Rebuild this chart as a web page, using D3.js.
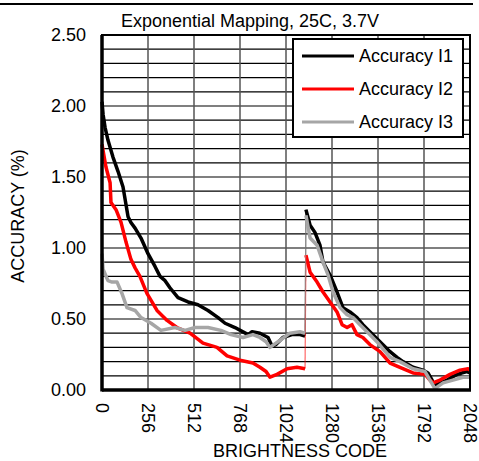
<!DOCTYPE html>
<html><head><meta charset="utf-8">
<script src="https://cdn.jsdelivr.net/npm/d3@7"></script>
<style>body{margin:0;background:#fff}svg{display:block}text{font-family:"Liberation Sans",Arial,sans-serif}</style>
</head><body>
<script>
const title = "Exponential Mapping, 25C, 3.7V";
const xTicks = [0, 256, 512, 768, 1024, 1280, 1536, 1792, 2048];
const yTicks = [0, 0.5, 1.0, 1.5, 2.0, 2.5];
const seriesNames = ["Accuracy I1", "Accuracy I2", "Accuracy I3"];
const seriesColors = ["#000000", "#ff0000", "#a6a6a6"];

const i1Code = [0,6,17,33,61,89,117,145,161,184,217,256,295,323,351,378,423,479,534,590,646,685,740,813,835,879,924,946,968,1007,1057,1102,1130,
  1135,1158,1185,1213,1230,1269,1308,1341,1380,1419,1452,1491,1547,1603,1642,1675,1731,1786,1814,1837,1848,1864,1920,1976,2031,2048];
const i1Val = [2.03,1.94,1.85,1.76,1.64,1.54,1.43,1.22,1.18,1.14,1.07,0.96,0.87,0.80,0.77,0.72,0.65,0.62,0.60,0.56,0.51,0.47,0.44,0.39,0.41,0.40,0.37,0.31,0.32,0.37,0.39,0.39,0.38,
  1.27,1.16,1.11,1.02,0.90,0.81,0.69,0.58,0.55,0.51,0.46,0.41,0.34,0.27,0.23,0.20,0.16,0.14,0.12,0.07,0.03,0.04,0.07,0.11,0.13,0.12];

const i2Code = [0,11,22,45,50,78,106,134,161,184,211,250,306,362,417,490,562,640,696,768,840,879,913,935,974,1030,1085,1130,
  1135,1158,1197,1230,1269,1308,1336,1364,1391,1419,1452,1491,1547,1603,1658,1731,1798,1825,1842,1881,1937,1992,2037,2048];
const i2Val = [1.73,1.65,1.57,1.46,1.32,1.27,1.18,1.04,0.92,0.86,0.80,0.68,0.56,0.49,0.44,0.40,0.33,0.30,0.24,0.21,0.19,0.16,0.13,0.09,0.11,0.15,0.16,0.15,
  0.95,0.83,0.76,0.69,0.62,0.55,0.46,0.44,0.46,0.39,0.37,0.32,0.27,0.19,0.16,0.12,0.11,0.07,0.05,0.07,0.11,0.14,0.15,0.14];

const i3Code = [0,6,33,56,84,111,139,184,217,273,328,406,462,518,590,662,718,785,840,879,913,935,991,1046,1102,1130,
  1135,1158,1197,1230,1258,1286,1325,1364,1397,1436,1475,1530,1603,1658,1731,1798,1825,1853,1898,1953,2009,2048];
const i3Val = [0.96,0.85,0.77,0.76,0.76,0.68,0.58,0.56,0.51,0.47,0.42,0.44,0.42,0.44,0.44,0.42,0.39,0.37,0.39,0.37,0.34,0.30,0.35,0.40,0.41,0.40,
  1.23,1.07,1.02,0.90,0.81,0.69,0.58,0.53,0.51,0.46,0.41,0.34,0.23,0.20,0.15,0.13,0.07,0.01,0.05,0.07,0.09,0.09];

const W = 479, H = 461;
const svg = d3.select("body").append("svg").attr("width", W).attr("height", H);
const x = d3.scaleLinear().domain([0, 2048]).range([102, 470]);
const y = d3.scaleLinear().domain([0, 2.5]).range([390, 35]);

// top rule
svg.append("line").attr("x1", 0).attr("x2", 473).attr("y1", 4).attr("y2", 4).attr("stroke", "#000").attr("stroke-width", 2);

// grid
const hGrid = d3.range(0, 26).map(i => i / 10);
svg.append("g").selectAll("line").data(hGrid).join("line")
  .attr("x1", x(0)).attr("x2", x(2048)).attr("y1", d => y(d)).attr("y2", d => y(d))
  .attr("stroke", "#000").attr("stroke-width", 1.2);
svg.append("g").selectAll("line").data(xTicks).join("line")
  .attr("x1", d => x(d)).attr("x2", d => x(d)).attr("y1", y(0)).attr("y2", y(2.5))
  .attr("stroke", "#555").attr("stroke-width", 1.5);

// series
const line = d3.line().x(d => x(d[0])).y(d => y(d[1]));
const series = [[i1Code, i1Val], [i2Code, i2Val], [i3Code, i3Val]];
series.forEach(([c, v], k) => {
  const pts = c.map((cc, i) => [cc, v[i]]);
  const split = pts.findIndex(p => p[0] > 1132);
  const a = pts.slice(0, split), b = pts.slice(split);
  svg.append("path").datum([a[a.length - 1], b[0]]).attr("d", line)
    .attr("fill", "none").attr("stroke", seriesColors[k]).attr("stroke-width", 1.2).attr("opacity", 0.6);
  [a, b].forEach(seg => svg.append("path").datum(seg).attr("d", line)
    .attr("fill", "none").attr("stroke", seriesColors[k]).attr("stroke-width", 3.5).attr("stroke-linejoin", "round"));
});

// frame
svg.append("rect").attr("x", x(0)).attr("y", y(2.5)).attr("width", x(2048) - x(0)).attr("height", y(0) - y(2.5))
  .attr("fill", "none").attr("stroke", "#000").attr("stroke-width", 2);
svg.append("line").attr("x1", x(0)).attr("x2", x(0)).attr("y1", y(2.5)).attr("y2", y(0) + 1.5).attr("stroke", "#000").attr("stroke-width", 3.5);
svg.append("line").attr("x1", x(0)).attr("x2", x(2048) + 1).attr("y1", y(0)).attr("y2", y(0)).attr("stroke", "#000").attr("stroke-width", 3.5);

// y tick labels
svg.append("g").selectAll("text").data(yTicks).join("text")
  .attr("x", 86).attr("y", d => y(d)).attr("dy", "0.36em").attr("text-anchor", "end")
  .attr("font-size", 18).text(d => d.toFixed(2));

// x tick labels (rotated)
svg.append("g").selectAll("text").data(xTicks).join("text")
  .attr("transform", d => `translate(${x(d)},403) rotate(90)`)
  .attr("dy", "0.36em").attr("font-size", 18).text(d => d);

// axis titles
svg.append("text").attr("x", 300).attr("y", 457).attr("text-anchor", "middle").attr("font-size", 18).text("BRIGHTNESS CODE");
svg.append("text").attr("transform", "translate(24,216) rotate(-90)").attr("text-anchor", "middle").attr("font-size", 18).text("ACCURACY (%)");
svg.append("text").attr("x", 250).attr("y", 27).attr("text-anchor", "middle").attr("font-size", 18).text(title);

// legend
const lg = svg.append("g");
lg.append("rect").attr("x", 293).attr("y", 39).attr("width", 170).attr("height", 98)
  .attr("fill", "#fff").attr("stroke", "#000").attr("stroke-width", 2);
seriesNames.forEach((n, i) => {
  const yy = 56 + i * 33;
  lg.append("line").attr("x1", 302).attr("x2", 354).attr("y1", yy).attr("y2", yy)
    .attr("stroke", seriesColors[i]).attr("stroke-width", 3);
  lg.append("text").attr("x", 359).attr("y", yy).attr("dy", "0.36em").attr("font-size", 18).text(n);
});
</script>
</body></html>
